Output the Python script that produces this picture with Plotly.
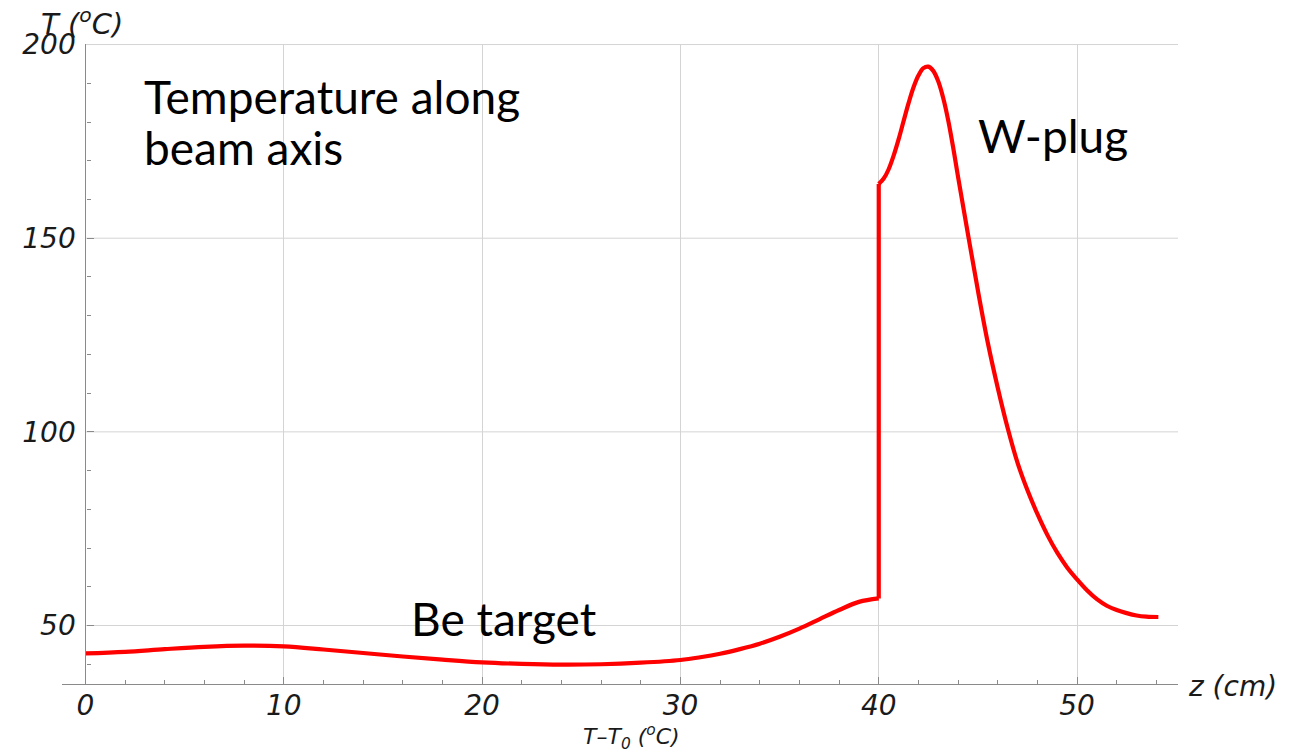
import plotly.graph_objects as go

# ---- data ----
# Be target part (z in cm, T in degC)
z_be = [0, 2, 4, 6, 8, 10, 12, 14, 16, 18, 20, 22, 24, 26, 28, 30, 31, 32, 33, 34, 35,
        36, 37, 38, 39, 40]
T_be = [42.8, 43.2, 43.9, 44.5, 44.8, 44.6, 43.8, 42.9, 42.0, 41.2, 40.5, 40.1, 39.9,
        40.0, 40.4, 41.1, 41.8, 42.7, 43.9, 45.3, 47.1, 49.2, 51.6, 54.0, 56.1, 57.0]
# jump at the Be / W interface
z_jump = [40, 40]
T_jump = [57.0, 164.0]
# W-plug part
z_w = [40, 40.25, 40.5, 40.75, 41, 41.25, 41.5, 41.75, 42, 42.25, 42.5, 42.75, 43,
       43.25, 43.5, 43.75, 44, 44.5, 45, 45.5, 46, 46.5, 47, 47.5, 48, 48.5, 49, 49.5,
       50, 50.5, 51, 51.5, 52, 52.5, 53, 53.5, 54.1]
T_w = [164.0, 165.4, 167.8, 171.3, 175.5, 180.2, 184.8, 188.9, 192.0, 193.9, 194.3,
       193.2, 190.5, 186.2, 180.5, 173.5, 165.8, 151.0, 136.5, 123.0, 111.4, 101.0,
       92.0, 84.9, 78.8, 73.4, 68.8, 65.0, 61.9, 59.1, 56.8, 55.1, 54.0, 53.2, 52.6,
       52.3, 52.2]

x_ticks = [0, 10, 20, 30, 40, 50]
y_ticks = [50, 100, 150, 200]

X_RANGE = [-1.185, 55.09]
Y_RANGE = [34.9, 200.14]

OFF = 8  # page body margin
W, H = 1304 - OFF, 754 - OFF
ML, MR, MT, MB = 62 - OFF, 126, 44 - OFF, 70

GRID = "#d4d4d4"
AXIS = "#8a8a8a"
RED = "#ff0000"
TICKFONT = dict(family="DejaVu Sans", size=28, color="#1a1a1a", style="italic")
LABELFONT = dict(family="Lato", size=46, color="black")

fig = go.Figure()

# horizontal grid lines starting at the y axis (x = 0)
for yv in y_ticks:
    fig.add_shape(type="line", xref="x", yref="y", x0=0, x1=X_RANGE[1], y0=yv, y1=yv,
                  line=dict(color=GRID, width=1), layer="below")

for xs, ys, shape in [(z_be, T_be, "spline"), (z_jump, T_jump, "linear"),
                      (z_w, T_w, "spline")]:
    fig.add_trace(go.Scatter(x=xs, y=ys, mode="lines",
                             line=dict(color=RED, width=4.2, shape=shape),
                             hoverinfo="skip", showlegend=False))

fig.update_layout(
    width=W, height=H,
    margin=dict(l=ML, r=MR, t=MT, b=MB),
    paper_bgcolor="white", plot_bgcolor="white",
    xaxis=dict(range=X_RANGE, tickvals=x_ticks, ticks="inside", ticklen=7,
               tickcolor=AXIS, showline=True, linecolor=AXIS, linewidth=1.3,
               showgrid=True, gridcolor=GRID, gridwidth=1, zeroline=False,
               tickfont=TICKFONT, ticklabelstandoff=-4,
               minor=dict(dtick=2, ticks="inside", ticklen=4, tickcolor=AXIS,
                          showgrid=False)),
    yaxis=dict(range=Y_RANGE, tickvals=y_ticks, ticks="inside", ticklen=7,
               tickcolor=AXIS, showline=True, linecolor=AXIS, linewidth=1.3,
               showgrid=False, zeroline=False, anchor="free",
               position=(0 - X_RANGE[0]) / (X_RANGE[1] - X_RANGE[0]),
               tickfont=TICKFONT, ticklabelstandoff=4,
               minor=dict(dtick=10, tick0=0, ticks="inside", ticklen=4,
                          tickcolor=AXIS, showgrid=False)),
)

def px_x(p):
    return (p - OFF - ML) / (W - ML - MR)

def px_y(p):
    return (H - MB - (p - OFF)) / (H - MT - MB)

annos = [
    dict(text="Temperature along", x=2.85, y=186.5, xref="x", yref="y",
         xanchor="left", yanchor="middle", font=LABELFONT),
    dict(text="beam axis", x=2.85, y=173.5, xref="x", yref="y",
         xanchor="left", yanchor="middle", font=LABELFONT),
    dict(text="Be target", x=16.3, y=51.8, xref="x", yref="y",
         xanchor="left", yanchor="middle", font=LABELFONT),
    dict(text="W-plug", x=44.9, y=176.6, xref="x", yref="y",
         xanchor="left", yanchor="middle", font=LABELFONT),
    dict(text="z (cm)", x=px_x(1186), y=px_y(686), xref="paper", yref="paper",
         xanchor="left", yanchor="middle", font=TICKFONT),
    dict(text="T (<sup>o</sup>C)", x=px_x(39), y=px_y(22), xref="paper", yref="paper",
         xanchor="left", yanchor="middle",
         font=dict(family="DejaVu Sans", size=29, color="#1a1a1a", style="italic")),
    dict(text="T–T<sub>0</sub> (<sup>o</sup>C)", x=px_x(631), y=px_y(737),
         xref="paper", yref="paper", xanchor="center", yanchor="middle",
         font=dict(family="DejaVu Sans", size=22, color="#1a1a1a", style="italic")),
]
for a in annos:
    fig.add_annotation(showarrow=False, **a)

fig.write_html("out.html")
